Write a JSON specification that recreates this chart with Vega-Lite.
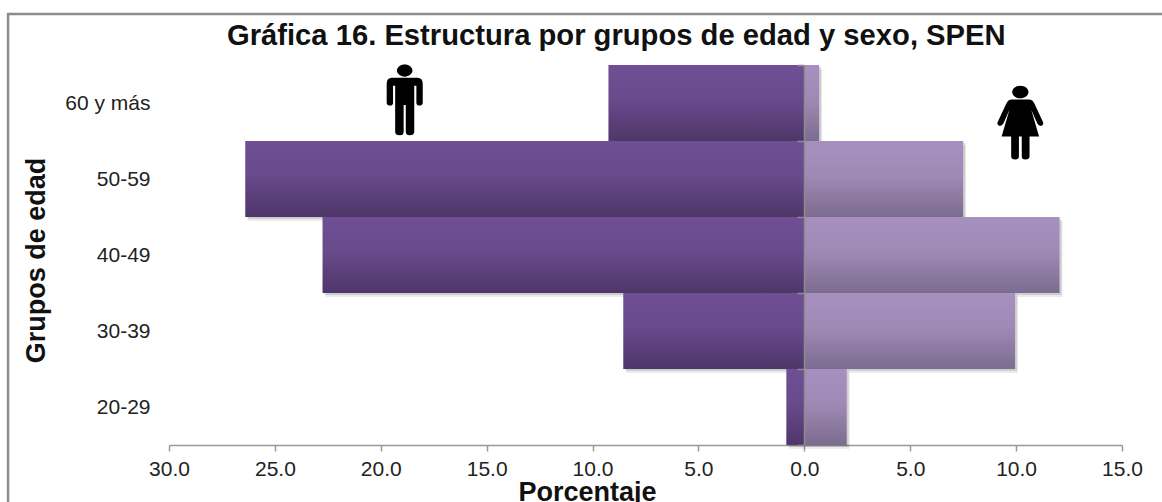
{
"$schema":"https://vega.github.io/schema/vega-lite/v6.json",
"width":953,"height":380,
"autosize":{"type":"none"},
"padding":{"left":169,"top":65,"right":40,"bottom":57},
"background":"white",
"title":{"text":"Gráfica 16. Estructura por grupos de edad y sexo, SPEN","font":"Liberation Sans","fontSize":29.2,"fontWeight":"bold","color":"#111111","anchor":"start","frame":"group","dx":58,"offset":-38},
"datasets":{
"bars":[
{"grupo":"60 y más","sexo":"Hombres","pct":-9.25},
{"grupo":"50-59","sexo":"Hombres","pct":-26.4},
{"grupo":"40-49","sexo":"Hombres","pct":-22.75},
{"grupo":"30-39","sexo":"Hombres","pct":-8.55},
{"grupo":"20-29","sexo":"Hombres","pct":-0.85},
{"grupo":"60 y más","sexo":"Mujeres","pct":0.7},
{"grupo":"50-59","sexo":"Mujeres","pct":7.5},
{"grupo":"40-49","sexo":"Mujeres","pct":12.05},
{"grupo":"30-39","sexo":"Mujeres","pct":9.95},
{"grupo":"20-29","sexo":"Mujeres","pct":2.0}
]},
"resolve":{"scale":{"y":"independent"}},
"layer":[
{"data":{"values":[{"x":-37.6,"x2":20,"y":5.67,"y2":-1}]},
"mark":{"type":"rect","fill":null,"stroke":"#8c8c8c","strokeWidth":2.5,"clip":false},
"encoding":{"x":{"field":"x","type":"quantitative","scale":{"domain":[-30,15],"nice":false,"zero":false},
"axis":{"values":[-30,-25,-20,-15,-10,-5,0,5,10,15],"labelExpr":"format(abs(datum.value),'.1f')","title":"Porcentaje","titleFont":"Liberation Sans","titleFontSize":27,"titleFontWeight":"bold","titleColor":"#111111","titleX":418,"titleY":55,"titleBaseline":"alphabetic","labelFont":"Liberation Sans","labelFontSize":21,"labelColor":"#222222","labelPadding":7,"tickColor":"#999999","domainColor":"#999999","tickSize":6,"grid":false,"domainWidth":1.5,"tickWidth":1.5,"labelFlush":false}},"x2":{"field":"x2"},
"y":{"field":"y","type":"quantitative","scale":{"domain":[0,5],"nice":false,"zero":false},"axis":null},"y2":{"field":"y2"}}},
{"data":{"values":[{"sexo":"Hombres","x":-18.87,"y":4.54}]},
"mark":{"type":"point","filled":true,"color":"black","opacity":1,"size":5000,"shape":"M-0.22 -0.83 a0.22 0.17 0 1 0 0.44 0 a0.22 0.17 0 1 0 -0.44 0 Z M-0.36 -0.63 H0.36 Q0.51 -0.63 0.51 -0.45 V0.08 Q0.51 0.16 0.41 0.16 Q0.33 0.16 0.33 0.08 V-0.4 H0.27 V0.9 Q0.27 1 0.14 1 Q0.03 1 0.03 0.9 V0.14 H-0.03 V0.9 Q-0.03 1 -0.14 1 Q-0.27 1 -0.27 0.9 V-0.4 H-0.33 V0.08 Q-0.33 0.16 -0.41 0.16 Q-0.51 0.16 -0.51 0.08 V-0.45 Q-0.51 -0.63 -0.36 -0.63 Z"},
"encoding":{"x":{"field":"x","type":"quantitative"},"y":{"field":"y","type":"quantitative","scale":{"domain":[0,5],"nice":false,"zero":false},"axis":null}}},
{"data":{"values":[{"sexo":"Mujeres","x":10.2,"y":4.24}]},
"mark":{"type":"point","filled":true,"color":"black","opacity":1,"size":5000,"shape":"M-0.23 -0.87 a0.23 0.18 0 1 0 0.46 0 a0.23 0.18 0 1 0 -0.46 0 Z M-0.24 -0.66 H0.24 Q0.35 -0.66 0.4 -0.54 L0.65 0 Q0.66 0.08 0.58 0.09 Q0.52 0.09 0.48 0.02 L0.31 -0.36 L0.53 0.39 H0.26 V0.95 Q0.26 1.04 0.14 1.04 Q0.04 1.04 0.04 0.95 V0.39 H-0.04 V0.95 Q-0.04 1.04 -0.14 1.04 Q-0.26 1.04 -0.26 0.95 V0.39 H-0.53 L-0.31 -0.36 L-0.48 0.02 Q-0.52 0.09 -0.58 0.09 Q-0.66 0.08 -0.65 0 L-0.4 -0.54 Q-0.35 -0.66 -0.24 -0.66 Z"},
"encoding":{"x":{"field":"x","type":"quantitative"},"y":{"field":"y","type":"quantitative","scale":{"domain":[0,5],"nice":false,"zero":false},"axis":null}}},
{"data":{"name":"bars"},
"mark":{"type":"bar","color":"#000000","opacity":0.12,"xOffset":2,"yOffset":2},
"encoding":{"x":{"field":"pct","type":"quantitative"},"y":{"field":"grupo","type":"nominal","sort":["60 y más","50-59","40-49","30-39","20-29"],"scale":{"paddingInner":0,"paddingOuter":0},
"axis":{"orient":"left","offset":-635,"tickBand":"extent","tickSize":7,"tickColor":"#8c8c8c","domainColor":"#8c8c8c","domainWidth":1.5,"tickWidth":1.5,"zindex":1,"grid":false,"labelPadding":647,"labelFont":"Liberation Sans","labelFontSize":21,"labelColor":"#222222","labelAngle":0,"title":"Grupos de edad","titleFont":"Liberation Sans","titleFontSize":27,"titleFontWeight":"bold","titleColor":"#111111","titleX":-768,"titleY":195,"titleAngle":-90,"titleBaseline":"middle"}}}},
{"data":{"name":"bars"},
"mark":{"type":"bar","color":"#000000","opacity":0.08,"xOffset":3,"yOffset":4},
"encoding":{"x":{"field":"pct","type":"quantitative"},"y":{"field":"grupo","type":"nominal","sort":["60 y más","50-59","40-49","30-39","20-29"],"scale":{"paddingInner":0,"paddingOuter":0},"axis":null}}},
{"data":{"name":"bars"},"transform":[{"filter":"datum.sexo==='Hombres'"}],
"mark":{"type":"bar","color":{"gradient":"linear","x1":0,"y1":0,"x2":0,"y2":1,"stops":[{"offset":0,"color":"#704f95"},{"offset":0.45,"color":"#694a8c"},{"offset":1,"color":"#4e3669"}]}},
"encoding":{"x":{"field":"pct","type":"quantitative"},"y":{"field":"grupo","type":"nominal","sort":["60 y más","50-59","40-49","30-39","20-29"],"scale":{"paddingInner":0,"paddingOuter":0},"axis":null}}},
{"data":{"name":"bars"},"transform":[{"filter":"datum.sexo==='Mujeres'"}],
"mark":{"type":"bar","color":{"gradient":"linear","x1":0,"y1":0,"x2":0,"y2":1,"stops":[{"offset":0,"color":"#a690bf"},{"offset":0.45,"color":"#9f8ab6"},{"offset":1,"color":"#7c6c90"}]}},
"encoding":{"x":{"field":"pct","type":"quantitative"},"y":{"field":"grupo","type":"nominal","sort":["60 y más","50-59","40-49","30-39","20-29"],"scale":{"paddingInner":0,"paddingOuter":0},"axis":null}}}
],
"config":{"view":{"stroke":null}}
}
